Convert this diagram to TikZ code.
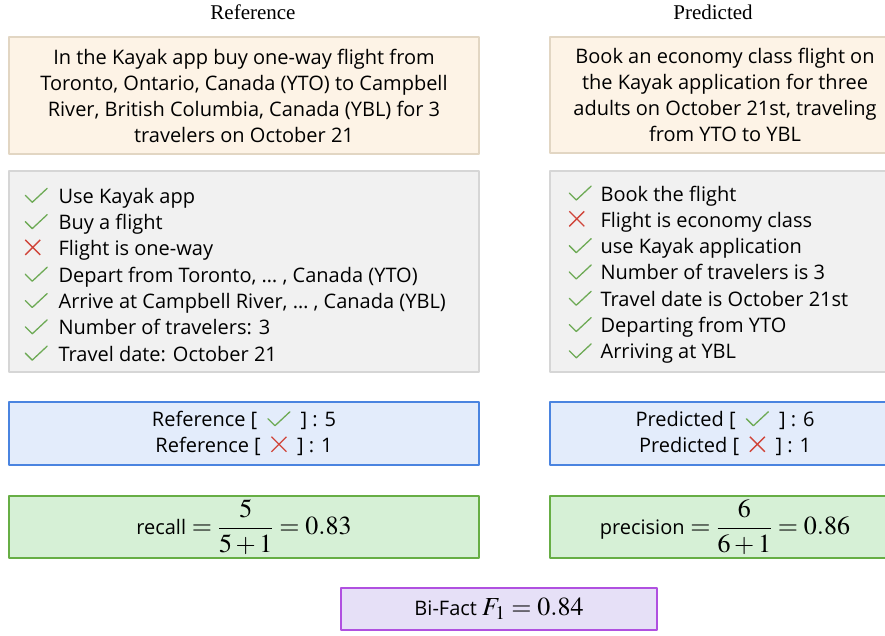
\documentclass[tikz,border=0pt]{standalone}
\usepackage[no-math]{fontspec}
\usepackage{mathptmx}
\setmainfont{Liberation Serif}
\setsansfont{Open Sans}
\definecolor{qfill}{HTML}{FDF3E6}
\definecolor{qline}{HTML}{E2D6C3}
\definecolor{lfill}{HTML}{F1F1F1}
\definecolor{lline}{HTML}{D6D6D6}
\definecolor{cfill}{HTML}{E3ECFB}
\definecolor{cline}{HTML}{4A84E0}
\definecolor{rfill}{HTML}{D6F0D6}
\definecolor{rline}{HTML}{67AE45}
\definecolor{ffill}{HTML}{E6E0F7}
\definecolor{fline}{HTML}{B050E0}
\definecolor{okgreen}{HTML}{6DAA55}
\definecolor{nored}{HTML}{D0453A}
\newcommand\ok{\tikz[baseline=-1pt]\draw[okgreen, line width=1.3pt, line cap=round, line join=round] (0pt,7pt)--(7pt,0pt)--(22pt,14pt);}
\newcommand\no{\tikz[baseline=-1pt]\draw[nored, line width=1.3pt] (1pt,0pt)--(16pt,15pt) (1pt,15pt)--(16pt,0pt);}
\newcommand\mth[1]{{\fontsize{26}{30}\selectfont$\displaystyle #1$}}
\begin{document}
\begin{tikzpicture}[x=1pt, y=-1pt, font=\sffamily\fontsize{20}{26}\selectfont, line join=round,
  box/.style={line width=1.2pt, inner sep=0pt, align=center},
  qbox/.style={box, draw=qline, fill=qfill},
  lbox/.style={box, draw=lline, fill=lfill},
  cbox/.style={box, draw=cline, fill=cfill},
  rbox/.style={box, draw=rline, fill=rfill},
  fbox/.style={box, draw=fline, fill=ffill},
  items/.style={anchor=west, inner sep=0pt, align=left, font=\sffamily\fontsize{20}{26.3}\selectfont},
  head/.style={font=\rmfamily\fontsize{21}{24}\selectfont}]
\useasboundingbox (0,0) rectangle (885,635);
% column heads
\node[head] (refhead) at (253,12) {Reference};
\node[head] (predhead) at (713,12) {Predicted};
% questions
\node[qbox, minimum width=470, minimum height=117] (refq) at (244,95.5)
  {In the Kayak app buy one-way flight from\\ Toronto, Ontario, Canada (YTO) to Campbell\\ River, British Columbia, Canada (YBL) for 3\\ travelers on October 21};
\node[qbox, minimum width=350, minimum height=116] (predq) at (725,95)
  {Book an economy class flight on\\ the Kayak application for three\\ adults on October 21st, traveling\\ from YTO to YBL};
% facts
\node[lbox, minimum width=470, minimum height=201] (refl) at (244,271.5) {};
\node[items] (refitems) at ([xshift=16, yshift=-3]refl.west)
  {\makebox[34pt][l]{\ok}Use Kayak app\\
   \makebox[34pt][l]{\ok}Buy a flight\\
   \makebox[34pt][l]{\no}Flight is one-way\\
   \makebox[34pt][l]{\ok}Depart from Toronto, … , Canada (YTO)\\
   \makebox[34pt][l]{\ok}Arrive at Campbell River, … , Canada (YBL)\\
   \makebox[34pt][l]{\ok}Number of travelers: 3\\
   \makebox[34pt][l]{\ok}Travel date: October 21};
\node[lbox, minimum width=350, minimum height=201] (predl) at (725,271.5) {};
\node[items] (preditems) at ([xshift=19, yshift=-3]predl.west)
  {\makebox[32pt][l]{\ok}Book the flight\\
   \makebox[32pt][l]{\no}Flight is economy class\\
   \makebox[32pt][l]{\ok}use Kayak application\\
   \makebox[32pt][l]{\ok}Number of travelers is 3\\
   \makebox[32pt][l]{\ok}Travel date is October 21st\\
   \makebox[32pt][l]{\ok}Departing from YTO\\
   \makebox[32pt][l]{\ok}Arriving at YBL};
% counts
\node[cbox, minimum width=470, minimum height=63] (refc) at (244,433.5)
  {Reference [\enspace{\ok}\enspace] : 5\\ Reference [\enspace{\no}\enspace] : 1};
\node[cbox, minimum width=350, minimum height=63] (predc) at (725,433.5)
  {Predicted [\enspace{\ok}\enspace] : 6\\ Predicted [\enspace{\no}\enspace] : 1};
% scores
\node[rbox, minimum width=470, minimum height=62] (recall) at (244,527)
  {recall\mth{{}=\frac{5}{5+1}=0.83}};
\node[rbox, minimum width=350, minimum height=62] (prec) at (725,527)
  {precision\mth{{}=\frac{6}{6+1}=0.86}};
\node[fbox, minimum width=316, minimum height=42] (fone) at (499,609)
  {Bi-Fact \mth{F_1=0.84}};
\end{tikzpicture}
\end{document}
